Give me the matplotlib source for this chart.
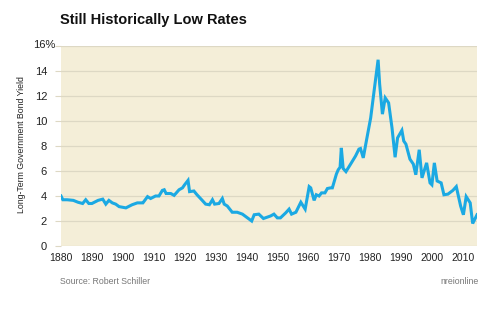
import matplotlib
matplotlib.use("Agg")
import matplotlib.pyplot as plt
from matplotlib.transforms import ScaledTranslation

years = [1880, 1880.6, 1882, 1884, 1885.5, 1887, 1888, 1889, 1890, 1892, 1893.5, 1894.5, 1895.5,
         1896.6, 1897.7, 1898.8, 1901, 1903, 1904.7, 1906, 1906.5, 1908, 1909, 1910.6, 1911.7,
         1912.8, 1913.4, 1914, 1915.5, 1916.6, 1918.2, 1919.3, 1920, 1921.1, 1921.6, 1923, 1924,
         1925.7, 1926.8, 1928, 1929, 1929.7, 1931.1, 1932.2, 1932.8, 1933.8, 1935.4, 1937, 1938.7,
         1941.7, 1942.5, 1944, 1945.5, 1947.8, 1948.9, 1950, 1951, 1952.7, 1953.8, 1954.6, 1956,
         1957.6, 1959, 1960.3, 1960.8, 1961.9, 1962.6, 1963.5, 1964.3, 1965.4, 1966.2, 1967.2,
         1967.8, 1969.1, 1969.7, 1970.3, 1970.7, 1971.3, 1972.2, 1973.7, 1975.3, 1976.4, 1976.9,
         1977.8, 1978.8, 1980.2, 1981.3, 1982.6, 1983.1, 1984, 1984.9, 1986, 1987.1, 1988.1,
         1988.9, 1990.3, 1990.9, 1991.6, 1992.9, 1994, 1994.8, 1995.9, 1996.8, 1998.3, 1999.4,
         2000, 2000.8, 2001.7, 2003, 2003.9, 2005.2, 2006.8, 2007.9, 2009.3, 2010.2, 2011.1,
         2012.4, 2013.2, 2014.1, 2014.6]
yields = [4.0, 3.7, 3.7, 3.65, 3.5, 3.4, 3.7, 3.4, 3.4, 3.65, 3.75, 3.35, 3.65,
          3.45, 3.35, 3.15, 3.05, 3.3, 3.45, 3.45, 3.45, 3.95, 3.8, 4.0, 4.0,
          4.45, 4.5, 4.2, 4.2, 4.05, 4.5, 4.65, 4.9, 5.25, 4.35, 4.4, 4.1,
          3.65, 3.35, 3.3, 3.7, 3.35, 3.4, 3.8, 3.35, 3.2, 2.7, 2.7, 2.55,
          2.0, 2.5, 2.55, 2.2, 2.4, 2.55, 2.25, 2.25, 2.65, 2.95, 2.55, 2.7,
          3.5, 2.95, 4.75, 4.65, 3.65, 4.1, 4.0, 4.25, 4.25, 4.6, 4.65,
          4.65, 5.75, 6.1, 6.3, 7.85, 6.2, 5.95, 6.55, 7.2, 7.75, 7.8,
          7.05, 8.4, 10.25, 12.4, 14.9, 12.95, 10.55, 11.85, 11.45, 9.45, 7.1,
          8.65, 9.25, 8.4, 8.15, 6.95, 6.55, 5.7, 7.7, 5.45, 6.65, 5.05,
          4.9, 6.65, 5.2, 5.05, 4.1, 4.15, 4.45, 4.75, 3.2, 2.5, 3.95,
          3.45, 1.8, 2.25, 2.5]

x_ticks = [1880, 1890, 1900, 1910, 1920, 1930, 1940, 1950, 1960, 1970, 1980, 1990, 2000, 2010]
y_ticks = [0, 2, 4, 6, 8, 10, 12, 14, 16]
y_tick_labels = ["0", "2", "4", "6", "8", "10", "12", "14", "16%"]

plt.rcParams["font.family"] = ["Liberation Sans", "DejaVu Sans"]

fig = plt.figure(figsize=(5.0, 3.21), dpi=100)
ax = fig.add_axes([61 / 500, (321 - 246) / 321, (477 - 61) / 500, 200 / 321])
ax.set_facecolor("#f4eed8")
ax.plot(years, yields, color="#1ba9e3", lw=2.2, solid_joinstyle="miter", zorder=3)
ax.set_xlim(1880, 2014.6)
ax.set_ylim(0, 16)
ax.set_xticks(x_ticks)
ax.set_xticklabels([str(t) for t in x_ticks], fontsize=7.5)
ax.set_yticks(y_ticks)
ax.set_yticklabels(y_tick_labels, fontsize=8)
ax.grid(axis="y", color="#ddd8c4", lw=0.9)
ax.grid(axis="x", visible=False)
for s in ax.spines.values():
    s.set_visible(False)
ax.tick_params(axis="y", length=4, color="#ddd8c4", pad=6, labelcolor="#222222")
ax.tick_params(axis="x", length=0, pad=5, labelcolor="#222222")
top_lab = ax.get_yticklabels()[-1]
top_lab.set_transform(top_lab.get_transform() + ScaledTranslation(8 / 100, 1.5 / 100, fig.dpi_scale_trans))

fig.text(22 / 500, 1 - 145 / 321, "Long-Term Government Bond Yield", fontsize=6.3,
         color="#222222", rotation=90, va="center", ha="center")
fig.text(60 / 500, 1 - 20 / 321, "Still Historically Low Rates", fontsize=10.5, fontweight="bold",
         color="#111111", va="center", ha="left")
fig.text(60 / 500, 1 - 282 / 321, "Source: Robert Schiller", fontsize=6.3,
         color="#777777", va="center", ha="left")
fig.text(479 / 500, 1 - 282 / 321, "nreionline", fontsize=6.3,
         color="#777777", va="center", ha="right")

fig.savefig("out.png", dpi=100, facecolor="white")
